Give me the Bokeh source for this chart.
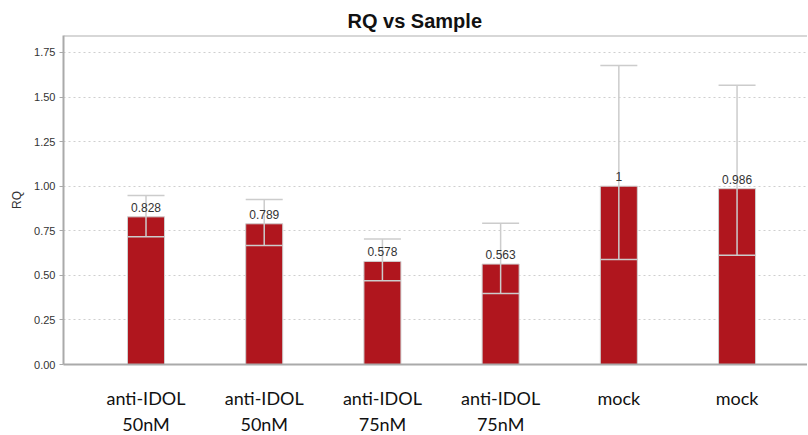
from bokeh.plotting import figure
from bokeh.models import Range1d, FixedTicker, ColumnDataSource, Span
from bokeh.embed import file_html
from bokeh.resources import INLINE
from bokeh.core.properties import value

samples = ["anti-IDOL\n50nM", "anti-IDOL\n50nM", "anti-IDOL\n75nM", "anti-IDOL\n75nM", "mock", "mock"]
rq = [0.828, 0.789, 0.578, 0.563, 1.0, 0.986]
rq_labels = ["0.828", "0.789", "0.578", "0.563", "1", "0.986"]
rq_min = [0.717, 0.667, 0.470, 0.398, 0.589, 0.613]
rq_max = [0.948, 0.925, 0.704, 0.792, 1.677, 1.566]
y_ticks = [0.0, 0.25, 0.5, 0.75, 1.0, 1.25, 1.5, 1.75]
y_top = 1.845

xs = list(range(len(samples)))
bw = 0.313
src = ColumnDataSource(dict(
    x=xs, top=rq, lab=rq_labels, lo=rq_min, hi=rq_max,
    xl=[x - bw / 2 for x in xs], xr=[x + bw / 2 for x in xs],
))

p = figure(frame_width=744, frame_height=329, output_backend="svg", toolbar_location=None,
           x_range=Range1d(-0.698, 5.596), y_range=Range1d(0, y_top),
           min_border_left=63, min_border_right=0, min_border_top=35, min_border_bottom=0,
           title="RQ vs Sample")
p.title.text_font = "Liberation Sans"
p.title.text_font_size = "20px"
p.title.text_font_style = "bold"
p.title.text_color = "#111111"
p.title.align = "left"
p.title.offset = 284
p.title.standoff = 7

p.outline_line_color = None
p.add_layout(Span(location=y_top, dimension="width", line_color="#b0b0b0", line_width=2))
p.xgrid.grid_line_color = None
p.ygrid.grid_line_color = "#cfcfcf"
p.ygrid.grid_line_dash = "2 3"
p.ygrid.ticker = FixedTicker(ticks=y_ticks)

p.vbar(x="x", top="top", width=bw, bottom=0, source=src,
       fill_color="#b0161e", line_color="#cfcfcf", line_width=1)
p.segment(x0="x", y0="lo", x1="x", y1="hi", source=src, line_color="#cccccc", line_width=1.5)
p.segment(x0="xl", y0="hi", x1="xr", y1="hi", source=src, line_color="#cccccc", line_width=1.5)
p.segment(x0="xl", y0="lo", x1="xr", y1="lo", source=src, line_color="#cccccc", line_width=1.5)
p.text(x="x", y="top", text="lab", source=src, y_offset=-5,
       text_align="center", text_baseline="bottom",
       text_font=value("Liberation Sans"), text_font_size="12px", text_color="#333333")

ya = p.yaxis[0]
ya.ticker = FixedTicker(ticks=y_ticks)
ya.major_label_overrides = {t: f"{t:.2f}" for t in y_ticks}
ya.axis_label = "RQ"
ya.axis_label_text_font = "Liberation Sans"
ya.axis_label_text_font_size = "12px"
ya.axis_label_text_font_style = "normal"
ya.axis_label_text_color = "#333333"
ya.axis_label_standoff = 7
ya.major_label_text_font = "Liberation Sans"
ya.major_label_text_font_size = "11px"
ya.major_label_text_color = "#333333"
ya.major_label_standoff = 4
ya.axis_line_color = "#aaaaaa"
ya.axis_line_width = 2
ya.major_tick_line_color = "#aaaaaa"
ya.major_tick_out = 4
ya.major_tick_in = 0
ya.minor_tick_line_color = None

xa = p.xaxis[0]
xa.ticker = FixedTicker(ticks=xs)
xa.major_label_overrides = {i: s for i, s in enumerate(samples)}
xa.major_label_text_font = "Lato"
xa.major_label_text_font_size = "18px"
xa.major_label_text_color = "#111111"
xa.major_label_standoff = 16
xa.axis_line_color = "#aaaaaa"
xa.axis_line_width = 2
xa.major_tick_line_color = None
xa.minor_tick_line_color = None

open("out.html", "w").write(file_html(p, INLINE))
